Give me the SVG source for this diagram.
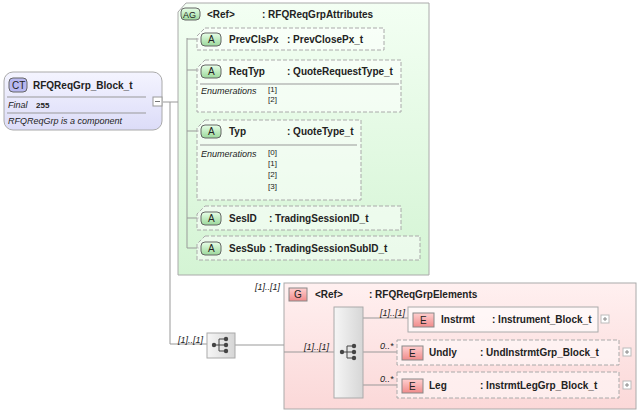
<svg xmlns="http://www.w3.org/2000/svg" width="642" height="415" viewBox="0 0 642 415">
<defs>
<linearGradient id="ct" x1="0" y1="0" x2="0" y2="1"><stop offset="0" stop-color="#f4f4ff"/><stop offset="1" stop-color="#dcdcf8"/></linearGradient>
<linearGradient id="ag" x1="0" y1="0" x2="0" y2="1"><stop offset="0" stop-color="#f3fff3"/><stop offset="1" stop-color="#d4f4d4"/></linearGradient>
<linearGradient id="g" x1="0" y1="0" x2="0" y2="1"><stop offset="0" stop-color="#fff0f0"/><stop offset="1" stop-color="#fbd8d8"/></linearGradient>
<linearGradient id="seq" x1="0" y1="0" x2="1" y2="0"><stop offset="0" stop-color="#f6f6f6"/><stop offset="1" stop-color="#d6d6d6"/></linearGradient>
<linearGradient id="badgeA" x1="0" y1="0" x2="0" y2="1"><stop offset="0" stop-color="#e8ffe8"/><stop offset="1" stop-color="#9bd89b"/></linearGradient>
<linearGradient id="badgeE" x1="0" y1="0" x2="0" y2="1"><stop offset="0" stop-color="#ffd0d0"/><stop offset="1" stop-color="#f08a8a"/></linearGradient>
<g id="seqicon"><circle cx="-7" cy="0" r="2.2" fill="#444"/><path d="M-7 0H-2M-2 -6V6M-2 -6H5M-2 0H5M-2 6H5" stroke="#444" fill="none"/><circle cx="5" cy="-6" r="2.2" fill="#444"/><circle cx="5" cy="0" r="2.2" fill="#444"/><circle cx="5" cy="6" r="2.2" fill="#444"/></g>
</defs>
<style>
text{font-family:"Liberation Sans",Arial,sans-serif;fill:#222}
.b{font-weight:bold;font-size:10px}
.s{font-size:8px}
.i{font-style:italic;font-size:9px}
.c{fill:none;stroke:#999;stroke-width:1}
.att{fill:#fff;fill-opacity:0.5;stroke:#aaa;stroke-dasharray:4,2}
.el{fill:#fff;fill-opacity:0.6;stroke:#aaa}
.sep{stroke:#999}
</style>
<g id="ct-node">
<rect x="4" y="72" width="158" height="58" rx="9" fill="url(#ct)" stroke="#aaa"/>
<rect x="9" y="78" width="18" height="14" rx="4" fill="#b8b8f0" stroke="#666"/>
<text x="12" y="89" font-size="10" fill="#333">CT</text>
<text x="33" y="89" class="b" font-size="11">RFQReqGrp_Block_t</text>
<line x1="7" y1="97" x2="146" y2="97" class="sep"/>
<text x="8" y="108" class="i">Final</text><text x="36" y="108" font-size="8" font-weight="bold">255</text>
<line x1="7" y1="113" x2="146" y2="113" class="sep"/>
<text x="8" y="124" class="i">RFQReqGrp is a component</text>
<rect x="153" y="97" width="9" height="9" fill="#fff" stroke="#999"/>
<line x1="155" y1="101.5" x2="160" y2="101.5" stroke="#777"/>
</g>
<g id="ag-node">
<path d="M186 3H429V275H178V12Z" fill="url(#ag)" stroke="#aaa"/>
<rect x="181" y="8" width="19" height="12" rx="4" fill="url(#badgeA)" stroke="#666"/>
<text x="183" y="18" font-size="9">AG</text>
<text x="207" y="18" class="b">&lt;Ref&gt;</text>
<text x="262" y="18" class="b">: RFQReqGrpAttributes</text>
</g>
<g id="g-node">
<rect x="284" y="283" width="352" height="126" fill="url(#g)" stroke="#aaa"/>
<text x="255" y="290" class="i" font-size="8">[1]..[1]</text>
<rect x="289" y="288" width="18" height="13" fill="url(#badgeE)" stroke="#888"/>
<text x="294" y="298" font-size="10">G</text>
<text x="315" y="298" class="b">&lt;Ref&gt;</text>
<text x="369" y="298" class="b">: RFQReqGrpElements</text>
</g>
<g id="connectors">
<path class="c" d="M163 102H170V344H207M170 102H178M187 38V248M187 39H199M187 70H199M187 131H199M187 218H199M187 248H199M235 345H284M284 352H334M363 318H408M363 352H397M363 385H397"/>
</g>
<g id="attr-PrevClsPx">
<path class="att" d="M205 28H384V50H197V36Z"/>
<rect x="201" y="33" width="20" height="13" rx="4" fill="url(#badgeA)" stroke="#666"/>
<text x="208" y="43" font-size="10">A</text>
<text x="229" y="43" class="b">PrevClsPx</text><text x="287" y="43" class="b">: PrevClosePx_t</text>
</g>
<g id="attr-ReqTyp">
<path class="att" d="M205 60H401V112H197V68Z"/>
<rect x="201" y="65" width="20" height="13" rx="4" fill="url(#badgeA)" stroke="#666"/>
<text x="208" y="75" font-size="10">A</text>
<text x="229" y="75" class="b">ReqTyp</text><text x="287" y="75" class="b">: QuoteRequestType_t</text>
<line x1="200" y1="84" x2="399" y2="84" class="sep"/>
<text x="201" y="94" class="i" font-size="8">Enumerations</text>
<text x="268" y="92" class="s" fill="#555">[1]</text><text x="268" y="102" class="s" fill="#555">[2]</text>
</g>
<g id="attr-Typ">
<path class="att" d="M205 120H361V200H197V128Z"/>
<rect x="201" y="125" width="20" height="13" rx="4" fill="url(#badgeA)" stroke="#666"/>
<text x="208" y="135" font-size="10">A</text>
<text x="229" y="135" class="b">Typ</text><text x="287" y="135" class="b">: QuoteType_t</text>
<line x1="200" y1="145" x2="357" y2="145" class="sep"/>
<text x="201" y="157" class="i" font-size="8">Enumerations</text>
<text x="268" y="155" class="s" fill="#555">[0]</text><text x="268" y="166" class="s" fill="#555">[1]</text>
<text x="268" y="177" class="s" fill="#555">[2]</text><text x="268" y="189" class="s" fill="#555">[3]</text>
</g>
<g id="attr-SesID">
<path class="att" d="M205 206H401V230H197V214Z"/>
<rect x="201" y="212" width="20" height="13" rx="4" fill="url(#badgeA)" stroke="#666"/>
<text x="208" y="222" font-size="10">A</text>
<text x="229" y="222" class="b">SesID</text><text x="269" y="222" class="b">: TradingSessionID_t</text>
</g>
<g id="attr-SesSub">
<path class="att" d="M205 236H420V260H197V244Z"/>
<rect x="201" y="242" width="20" height="13" rx="4" fill="url(#badgeA)" stroke="#666"/>
<text x="208" y="252" font-size="10">A</text>
<text x="229" y="252" class="b">SesSub</text><text x="269" y="252" class="b">: TradingSessionSubID_t</text>
</g>
<g id="seq-outer">
<rect x="207" y="333" width="28" height="25" fill="url(#seq)" stroke="#aaa"/>
<use href="#seqicon" x="221" y="345"/>
<text x="178" y="343" class="i" font-size="8">[1]..[1]</text>
</g>
<g id="seq-inner">
<rect x="334" y="307" width="29" height="91" fill="url(#seq)" stroke="#aaa"/>
<use href="#seqicon" x="349" y="352"/>
<text x="304" y="350" class="i" font-size="8">[1]..[1]</text>
</g>
<g id="el-Instrmt">
<rect x="408" y="307" width="190" height="25" class="el"/>
<rect x="413" y="313" width="21" height="14" fill="url(#badgeE)" stroke="#888"/>
<text x="420" y="324" font-size="10">E</text>
<text x="441" y="323" class="b">Instrmt</text><text x="492" y="323" class="b">: Instrument_Block_t</text>
<text x="380" y="316" class="i" font-size="8">[1]..[1]</text>
<rect x="601" y="315" width="8" height="8" fill="#fff" stroke="#bbb"/><path d="M605 317V321M603 319H607" stroke="#888"/>
</g>
<g id="el-Undly">
<rect x="397" y="340" width="222" height="25" class="att"/>
<rect x="402" y="346" width="21" height="14" fill="url(#badgeE)" stroke="#888"/>
<text x="409" y="357" font-size="10">E</text>
<text x="429" y="356" class="b">Undly</text><text x="480" y="356" class="b">: UndInstrmtGrp_Block_t</text>
<text x="380" y="349" class="i" font-size="8">0..*</text>
<rect x="623" y="348" width="8" height="8" fill="#fff" stroke="#bbb"/><path d="M627 350V354M625 352H629" stroke="#888"/>
</g>
<g id="el-Leg">
<rect x="397" y="372" width="222" height="26" class="att"/>
<rect x="402" y="379" width="21" height="14" fill="url(#badgeE)" stroke="#888"/>
<text x="409" y="390" font-size="10">E</text>
<text x="429" y="389" class="b">Leg</text><text x="480" y="389" class="b">: InstrmtLegGrp_Block_t</text>
<text x="380" y="382" class="i" font-size="8">0..*</text>
<rect x="623" y="381" width="8" height="8" fill="#fff" stroke="#bbb"/><path d="M627 383V387M625 385H629" stroke="#888"/>
</g>
</svg>
